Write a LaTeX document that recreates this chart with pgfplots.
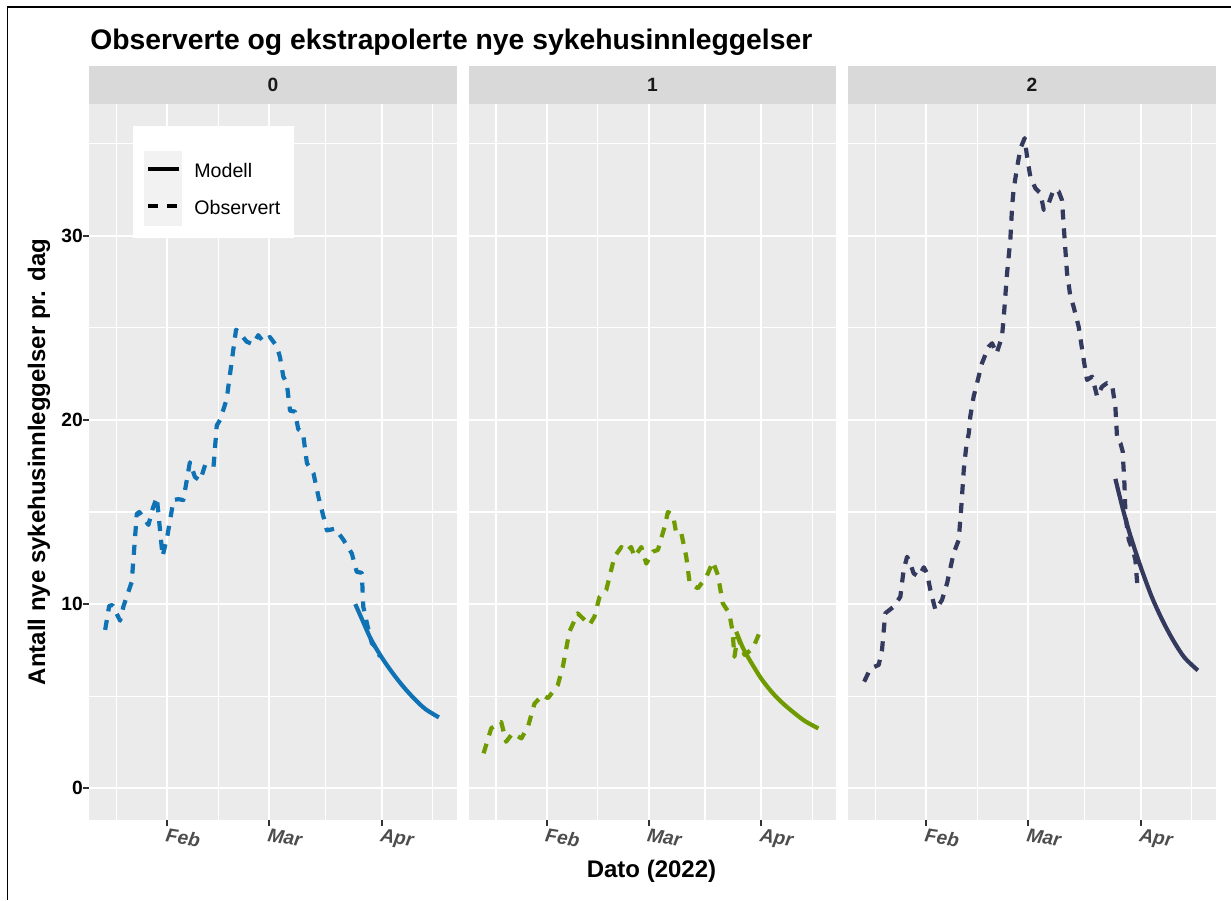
\documentclass[border=0pt]{standalone}
\usepackage{pgfplots}
\pgfplotsset{compat=1.18}
\usepackage{fontspec}
\setmainfont{Liberation Sans}
\definecolor{panelbg}{HTML}{EBEBEB}
\definecolor{stripbg}{HTML}{D9D9D9}
\definecolor{keybg}{HTML}{F2F2F2}
\definecolor{cA}{HTML}{0F72B5}
\definecolor{cB}{HTML}{6F9B00}
\definecolor{cC}{HTML}{343A5E}
\definecolor{ticktxt}{HTML}{4D4D4D}
\definecolor{tickcol}{HTML}{333333}

% day of year 2022 on x
\pgfplotstableread{
x y
14.9 8.6
16.0 9.9
16.9 9.95
19.0 9.1
19.9 9.86
22.2 11.2
23.6 14.9
24.3 15.0
26.8 14.3
28.0 15.2
29.1 15.8
30.7 12.6
32.0 13.7
33.7 15.65
35.0 15.7
36.4 15.65
38.2 17.7
39.6 16.9
41.0 16.7
42.4 17.55
44.7 17.45
45.6 19.7
46.5 20.0
48.3 21.1
50.0 23.6
50.9 24.9
52.0 24.7
53.8 24.25
55.6 24.1
57.0 24.6
58.4 24.25
60.2 24.5
62.1 24.0
63.0 23.4
63.9 22.35
64.85 22.0
65.75 20.5
67.1 20.45
68.0 19.5
69.3 19.3
70.4 17.65
72.2 17.1
73.6 15.8
75.9 14.0
78.2 14.1
80.4 13.5
82.75 12.75
84.1 11.75
85.5 11.7
85.9 9.86
86.9 8.96
88.25 7.87
89.2 7.69
90.5 7.14
}\obsA
\pgfplotstableread{
x y
83.7 10.0
85.5 9.2
88 8.1
91 7.1
94 6.25
97 5.5
100 4.85
103 4.3
106.7 3.85
}\modA
\pgfplotstableread{
x y
14.6 1.9
16.7 3.26
19.45 3.6
20.8 2.53
22.6 2.99
25.0 2.71
26.8 3.34
28.6 4.6
30.9 5.07
32.3 4.89
35.0 5.6
36.4 6.6
38.2 8.5
40.5 9.5
41.9 9.23
43.75 8.87
45.1 9.32
46.5 10.4
48.35 10.77
50.6 12.57
52.5 13.1
53.85 12.85
55.2 13.1
56.1 12.57
58.0 13.1
59.35 12.2
61.2 12.85
62.55 12.94
64.4 14.2
65.3 15.0
66.7 14.84
67.6 13.84
69.0 13.84
70.35 12.57
71.3 11.13
73.55 10.86
75.9 11.49
77.7 12.3
79.05 11.58
80.4 10.04
82.2 9.5
83.1 8.5
83.6 7.14
84.5 8.23
86.4 7.24
88.7 7.6
91.0 8.69
}\obsB
\pgfplotstableread{
x y
84.1 8.5
86 7.6
88 6.9
91 5.95
94 5.2
97 4.6
100 4.1
103 3.65
106.7 3.25
}\modB
\pgfplotstableread{
x y
14.9 5.79
16.6 6.5
18.9 6.7
19.8 7.5
20.7 9.5
23.0 9.86
24.85 10.4
25.75 11.85
26.7 12.57
27.6 12.2
28.5 11.67
29.9 11.49
31.3 12.0
32.2 11.67
33.1 10.77
34.5 9.68
36.3 10.22
37.7 11.13
39.5 12.76
40.9 13.48
41.55 15.1
42.3 17.3
43.0 18.6
43.7 19.3
44.1 20.2
45.0 21.26
45.95 22.0
47.3 23.07
49.1 23.97
50.1 24.16
51.3 23.6
52.8 24.5
53.3 25.6
54.2 27.96
55.1 29.77
55.6 31.6
56.0 32.5
57.0 33.75
57.9 34.74
59.05 35.3
59.7 34.3
60.6 33.2
62.0 32.57
63.4 32.3
64.3 31.4
65.65 31.76
67.0 32.5
68.4 32.4
69.3 31.94
69.8 30.5
70.7 27.96
71.2 27.3
71.6 26.7
72.5 26.15
73.9 25.06
75.3 23.25
76.2 22.17
77.6 22.35
79.0 21.26
80.3 21.8
81.7 22.0
83.1 21.9
84.0 20.7
84.5 18.9
85.4 18.73
86.0 18.3
86.5 16.5
86.8 14.74
87.7 13.48
89.05 12.76
89.5 12.4
90.0 11.13
}\obsC
\pgfplotstableread{
x y
84 16.8
86 15.2
88 13.8
91 12.0
94 10.4
97 9.1
100 8.0
103 7.1
106.7 6.4
}\modC

\pgfplotsset{
  facet/.style={
    scale only axis, width=183.85pt, height=358pt,
    anchor=south west,
    xmin=10.45, xmax=111.6, ymin=-1.72, ymax=37.15,
    axis background/.style={fill=panelbg},
    axis line style={draw=none},
    xtick={32,60,91}, xticklabels={Feb,Mar,Apr},
    minor xtick={18,46,75.5,105},
    ytick={0,10,20,30}, yticklabels={0,10,20,30},
    minor ytick={5,15,25,35},
    grid=both,
    major grid style={white, line width=1.1pt},
    minor grid style={white, line width=0.55pt},
    tick align=outside, tick pos=left,
    major tick length=2.9pt, minor tick length=0pt,
    every tick/.style={tickcol, line width=1pt},
    xticklabel style={font=\fontsize{9.6}{11}\selectfont\bfseries\itshape,
      text=ticktxt, rotate=-9, anchor=north west, inner sep=0pt, yshift=-1pt},
    yticklabel style={font=\fontsize{9.6}{11}\selectfont\bfseries,
      text=black, anchor=east, inner sep=0pt},
  },
  noy/.style={ytick style={draw=none}, yticklabels={}},
  obs/.style={line width=2.1pt, dash pattern=on 5pt off 4.4pt, line join=round},
  mod/.style={line width=2.1pt, line join=round, smooth},
}

\begin{document}
\begin{tikzpicture}
\path (0,0) rectangle (615.5pt,450pt);

\begin{axis}[facet, at={(44.5pt,40pt)}]
\addplot[obs, cA] table {\obsA};
\addplot[mod, cA] table {\modA};
\end{axis}
\begin{axis}[facet, noy, at={(234.25pt,40pt)}]
\addplot[obs, cB] table {\obsB};
\addplot[mod, cB] table {\modB};
\end{axis}
\begin{axis}[facet, noy, at={(424pt,40pt)}]
\addplot[obs, cC] table {\obsC};
\addplot[mod, cC] table {\modC};
\end{axis}

% strips
\foreach \l/\lab in {44.5/0, 234.25/1, 424/2} {
  \fill[stripbg] (\l pt,398pt) rectangle ++(183.85pt,19pt);
  \node[anchor=base, font=\fontsize{9.6}{11}\selectfont\bfseries, text={black!90}]
    at (\l pt+91.925pt,404.1pt) {\lab};
}

% legend
\fill[white] (66.35pt,331.15pt) rectangle (147pt,387pt);
\fill[keybg] (72pt,337.15pt) rectangle (91pt,374.5pt);
\draw[line width=2pt] (74.15pt,365.5pt) -- (89.65pt,365.5pt);
\draw[line width=2pt, dash pattern=on 4.65pt off 4.8pt] (74.15pt,347pt) -- (89.65pt,347pt);
\node[anchor=base west, inner sep=0pt, font=\fontsize{9.8}{11}\selectfont] at (97pt,361.15pt) {Modell};
\node[anchor=base west, inner sep=0pt, font=\fontsize{9.8}{11}\selectfont] at (97pt,342.85pt) {Observert};

% titles
\node[anchor=base west, inner sep=0pt, font=\fontsize{14.15}{17}\selectfont\bfseries] at (45pt,425pt)
  {Observerte og ekstrapolerte nye sykehusinnleggelser};
\node[anchor=base, inner sep=0pt, rotate=90, font=\fontsize{12}{14}\selectfont\bfseries] at (22.5pt,219pt)
  {Antall nye sykehusinnleggelser pr. dag};
\node[anchor=base, inner sep=0pt, font=\fontsize{12}{14}\selectfont\bfseries] at (325.75pt,11.5pt)
  {Dato (2022)};

% frame
\draw[line width=0.75pt] (3.65pt,0pt) -- (3.65pt,446.5pt) -- (615.5pt,446.5pt);

\pgfresetboundingbox
\path[use as bounding box] (0,0) rectangle (615.5pt,450pt);
\end{tikzpicture}
\end{document}
